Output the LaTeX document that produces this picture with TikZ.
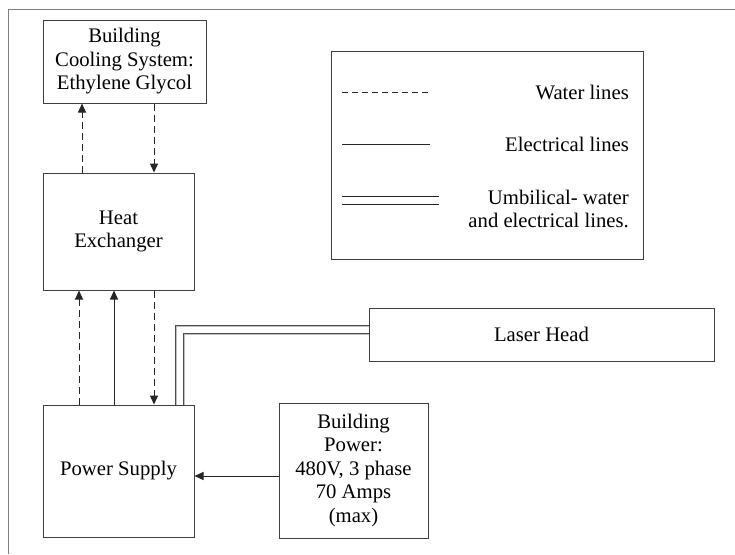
\documentclass[tikz,border=0pt]{standalone}
\usepackage{fontspec}
\setmainfont{Liberation Serif}
\usetikzlibrary{positioning, arrows.meta}

\begin{document}
\begin{tikzpicture}[
    x=1pt, y=-1pt,
    font=\fontsize{20.7}{23.5}\selectfont,
    block/.style={draw=black!75, line width=1pt, align=center, inner sep=0pt},
    water/.style={draw=black!85, line width=1pt, dash pattern=on 7pt off 4pt},
    elec/.style={draw=black!85, line width=1pt},
    umb/.style={draw=black!70, line width=0.8pt, double=black!25, double distance=0.7pt},
    tip/.style={-{Triangle[length=9pt,width=8pt]}}
]
    \useasboundingbox (0,0) rectangle (735,554);
    % page frame: only top and left edges show
    \draw[black!50, line width=1pt] (735,9) -- (8,9) -- (8,554);

    % Blocks of the system
    \node[block, minimum width=163pt, minimum height=83pt] (cool) at (124.5,61.5) {Building\\Cooling System:\\Ethylene Glycol};
    \node[block, minimum width=151pt, minimum height=117pt] (heat) at (118.5,231.5) {Heat\\Exchanger};
    \node[block, minimum width=151pt, minimum height=132pt] (supply) at (118.5,471) {Power Supply};
    \node[block, minimum width=345pt, minimum height=53pt] (laser) at (541.5,334.5) {Laser Head};
    \node[block, minimum width=149pt, minimum height=135pt] (bpower) at (353.5,470.5) {Building\\Power:\\480V, 3 phase\\70 Amps\\(max)};

    % Legend
    \node[block, minimum width=312pt, minimum height=208pt] (legend) at (487,155) {};
    \coordinate (wa) at (342,92);  \coordinate (wb) at (430,92);
    \coordinate (ea) at (342,144); \coordinate (eb) at (430,144);
    \coordinate (ua) at (342,196); \coordinate (ub) at (439,196);
    \coordinate (uc) at (342,204); \coordinate (ud) at (439,204);
    \draw[water, dash pattern=on 6pt off 4pt] (wa) -- (wb);
    \draw[elec] (ea) -- (eb);
    \draw[elec] (ua) -- (ub);
    \draw[elec] (uc) -- (ud);
    \node[anchor=east, inner sep=0pt] (wtext) at (629,92) {Water lines};
    \node[anchor=east, inner sep=0pt] (etext) at (629,144) {Electrical lines};
    \node[anchor=east, inner sep=0pt, align=right] (utext) at (629,209) {Umbilical- water\\and electrical lines.};

    % Water loop to the building cooling
    \draw[water, tip] ([xshift=-36.5pt]heat.north) -- ([xshift=-42.5pt]cool.south);
    \draw[water, tip] ([xshift=29.5pt]cool.south) -- ([xshift=35.5pt]heat.north);

    % Power supply <-> heat exchanger
    \draw[water, tip] ([xshift=-39.5pt]supply.north) -- ([xshift=-39.5pt]heat.south);
    \draw[elec, tip] ([xshift=-4.5pt]supply.north) -- ([xshift=-4.5pt]heat.south);
    \draw[water, tip] ([xshift=35.5pt]heat.south) -- ([xshift=35.5pt]supply.north);

    % Umbilical to the laser head
    \draw[umb] ([xshift=57.5pt]supply.north) |- ([yshift=8.5pt]laser.west);
    \draw[umb] ([xshift=65.5pt]supply.north) |- ([yshift=0.5pt]laser.west);

    % Mains feed
    \draw[elec, tip] ([yshift=-5.5pt]bpower.west) -- ([yshift=-5pt]supply.east);
\end{tikzpicture}
\end{document}
